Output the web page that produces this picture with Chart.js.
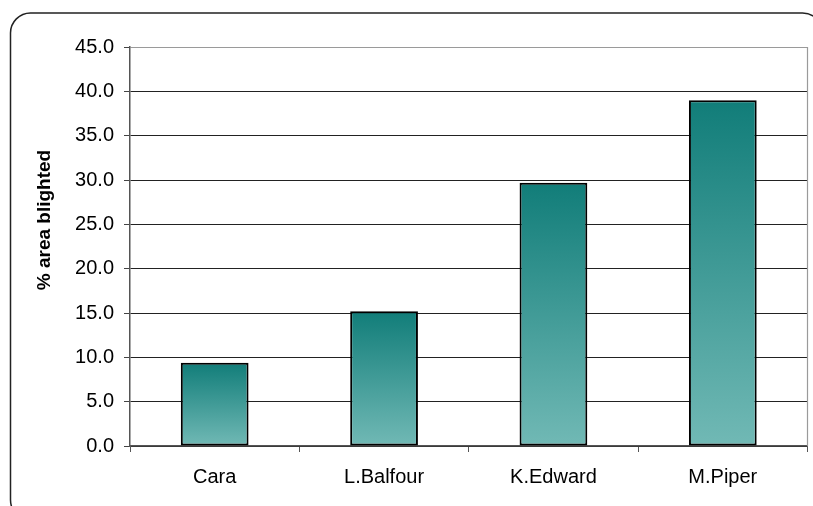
<!DOCTYPE html>
<html>
<head>
<meta charset="utf-8">
<script src="https://cdn.jsdelivr.net/npm/chart.js@4.4.1/dist/chart.umd.min.js"></script>
<style>
  html, body { margin: 0; padding: 0; background: #fff; }
  #wrap { width: 813px; height: 506px; position: relative; }
</style>
</head>
<body>
<div id="wrap"><canvas id="grafico" width="813" height="506"></canvas></div>
<script>
// variedades e % de área afetada
const variedades = ['Cara', 'L.Balfour', 'K.Edward', 'M.Piper'];
const areaAfetada = [9.4, 15.2, 29.7, 39.0];
const yMin = 0;
const yMax = 45;
const yStep = 5;
const tituloY = '% area blighted';

const FONTE = "'Liberation Sans', Arial, sans-serif";
const corTopo = '#117d79';
const corBase = '#71b9b5';

// degradê vertical de cada barra (escuro em cima, claro embaixo)
function gradienteBarra(ctx){
    const chart = ctx.chart;
    const area = chart.chartArea;
    if (!area || ctx.parsed === undefined) return corTopo;
    const y = chart.scales.y;
    const topo = y.getPixelForValue(ctx.parsed.y);
    const base = y.getPixelForValue(0);
    const g = chart.ctx.createLinearGradient(0, topo, 0, base);
    g.addColorStop(0, corTopo);
    g.addColorStop(1, corBase);
    return g;
}

// moldura arredondada, borda cinza da área e título do eixo y
const moldura = {
    id: 'moldura',
    beforeDraw(chart){
        const c = chart.ctx;
        c.save();
        c.strokeStyle = '#222';
        c.lineWidth = 1.5;
        c.beginPath();
        c.roundRect(10.5, 13, 812, 507, 20);
        c.stroke();
        c.restore();
    },
    afterDraw(chart){
        const a = chart.chartArea;
        const c = chart.ctx;
        c.save();
        c.strokeStyle = '#9a9a9a';
        c.lineWidth = 1.2;
        c.beginPath();
        c.moveTo(a.right, a.top);
        c.lineTo(a.right, a.bottom);
        c.stroke();

        // título vertical
        c.translate(45, 220);
        c.rotate(-Math.PI / 2);
        c.fillStyle = '#000';
        c.font = "bold 19px " + FONTE;
        c.textAlign = 'center';
        c.textBaseline = 'middle';
        c.fillText(tituloY, 0, 0);
        c.restore();
    }
};

const lin = document.getElementById('grafico');
const grafico = new Chart(lin, {
    type: 'bar',
    data: {
        labels: variedades,
        datasets: [{
            data: areaAfetada,
            backgroundColor: gradienteBarra,
            borderColor: '#000',
            borderWidth: 2,
            borderSkipped: false,
            barPercentage: 0.4,
            categoryPercentage: 1
        }]
    },
    options: {
        responsive: false,
        animation: false,
        layout: { padding: { left: 0, top: 47, right: 5.5, bottom: 0 } },
        plugins: {
            legend: { display: false },
            tooltip: { enabled: false }
        },
        scales: {
            x: {
                grid: {
                    offset: true,
                    drawOnChartArea: false,
                    drawTicks: true,
                    tickLength: 6,
                    color: '#555'
                },
                border: { color: '#555', width: 1.5 },
                ticks: {
                    color: '#000',
                    font: { family: FONTE, size: 20 },
                    padding: 13
                },
                afterFit(scale){ scale.height = 60; }
            },
            y: {
                min: yMin,
                max: yMax,
                grid: {
                    color: (ctx) => ctx.tick && ctx.tick.value === yMax ? '#9a9a9a' : '#222',
                    lineWidth: 1,
                    tickLength: 6,
                    tickColor: '#444'
                },
                border: { color: '#555', width: 1.5 },
                ticks: {
                    stepSize: yStep,
                    color: '#000',
                    font: { family: FONTE, size: 20 },
                    padding: 10,
                    callback: (v) => v.toFixed(1)
                },
                afterFit(scale){ scale.width = 130; }
            }
        }
    },
    plugins: [moldura]
});
</script>
</body>
</html>
